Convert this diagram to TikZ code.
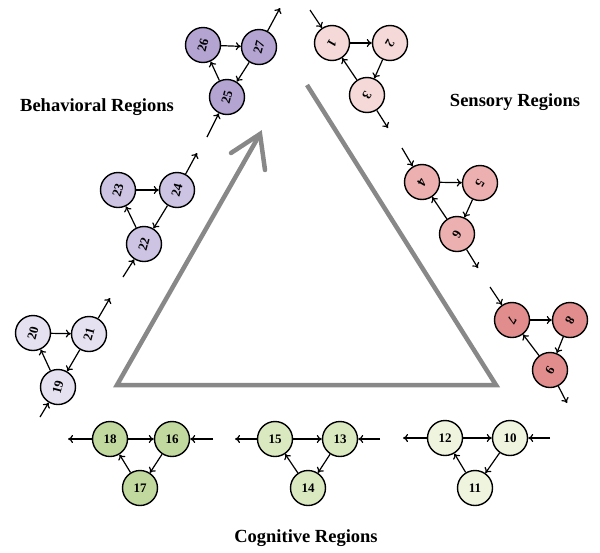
\documentclass[tikz,border=0pt]{standalone}
\usepackage{fontspec}
\setmainfont{Liberation Serif}
\usetikzlibrary{arrows.meta}
\definecolor{pA}{HTML}{B3A4D2}
\definecolor{pB}{HTML}{CDC3E2}
\definecolor{pC}{HTML}{E6E1F0}
\definecolor{rA}{HTML}{F5D8D8}
\definecolor{rB}{HTML}{EDB0B0}
\definecolor{rC}{HTML}{E28D8D}
\definecolor{gA}{HTML}{EFF4DF}
\definecolor{gB}{HTML}{DAE9C0}
\definecolor{gC}{HTML}{C1D99E}
\definecolor{tri}{HTML}{888888}
\newcommand{\rb}[1]{\rotatebox{75}{#1}}
\newcommand{\rs}[1]{\rotatebox{-120}{#1}}
\tikzset{
  nd/.style={circle,draw=black,line width=1.4pt,minimum size=35pt,inner sep=0pt,font=\fontsize{13}{13}\selectfont\bfseries},
  ar/.style={draw=black,line width=1.2pt,-{To[length=5pt,width=8pt]}},
  region/.style={font=\fontsize{18.5}{18.5}\selectfont\bfseries}
}
\begin{document}
\begin{tikzpicture}[x=1pt,y=-1pt]
\useasboundingbox (0,0) rectangle (600,552);
% triangle
\draw[tri,line width=4.5pt,line join=miter] (307,85) -- (496,385) -- (117,385) -- (260,134);
\draw[tri,line width=4.5pt,line join=miter,line cap=round] (231,153) -- (260,134) -- (265,170);
% labels
\node[region] (lb) at (97,107) {Behavioral Regions};
\node[region] (ls) at (515,102) {Sensory Regions};
\node[region] (lc) at (306,538) {Cognitive Regions};
% behavioral
\node[nd,fill=pA] (n25) at (227,97) {\rb{25}};
\node[nd,fill=pA] (n26) at (203,45) {\rb{26}};
\node[nd,fill=pA] (n27) at (259,47) {\rb{27}};
\node[nd,fill=pB] (n22) at (144,244) {\rb{22}};
\node[nd,fill=pB] (n23) at (118,190) {\rb{23}};
\node[nd,fill=pB] (n24) at (177,190) {\rb{24}};
\node[nd,fill=pC] (n19) at (58,387) {\rb{19}};
\node[nd,fill=pC] (n20) at (33,333) {\rb{20}};
\node[nd,fill=pC] (n21) at (89,334) {\rb{21}};
% sensory
\node[nd,fill=rA] (n1) at (332,43) {\rs{1}};
\node[nd,fill=rA] (n2) at (390,43) {\rs{2}};
\node[nd,fill=rA] (n3) at (367,95) {\rs{3}};
\node[nd,fill=rB] (n4) at (422,182) {\rs{4}};
\node[nd,fill=rB] (n5) at (480,183) {\rs{5}};
\node[nd,fill=rB] (n6) at (457,234) {\rs{6}};
\node[nd,fill=rC] (n7) at (512,320) {\rs{7}};
\node[nd,fill=rC] (n8) at (570,320) {\rs{8}};
\node[nd,fill=rC] (n9) at (550,370) {\rs{9}};
% cognitive
\node[nd,fill=gA] (n12) at (445,438) {12};
\node[nd,fill=gA] (n10) at (510,438) {10};
\node[nd,fill=gA] (n11) at (475,488) {11};
\node[nd,fill=gB] (n15) at (275,439) {15};
\node[nd,fill=gB] (n13) at (340,439) {13};
\node[nd,fill=gB] (n14) at (308,488) {14};
\node[nd,fill=gC] (n18) at (110,439) {18};
\node[nd,fill=gC] (n16) at (172,439) {16};
\node[nd,fill=gC] (n17) at (140,488) {17};
% free ends
\coordinate (i25) at (207,137); \coordinate (o27) at (280,8);
\coordinate (i22) at (123,277); \coordinate (o24) at (197,153);
\coordinate (i19) at (40,417);  \coordinate (o21) at (110,298);
\coordinate (i1) at (310,10);   \coordinate (o3) at (388,128);
\coordinate (i4) at (402,148);  \coordinate (o6) at (478,268);
\coordinate (i7) at (490,287);  \coordinate (o9) at (567,403);
\coordinate (i10) at (550,438); \coordinate (o12) at (403,438);
\coordinate (i13) at (380,439); \coordinate (o15) at (235,439);
\coordinate (i16) at (213,439); \coordinate (o18) at (68,439);
% behavioral edges
\foreach \a/\b/\c/\i/\o in {25/26/27/i25/o27,22/23/24/i22/o24,19/20/21/i19/o21}{
  \draw[ar] (n\b) -- (n\c);
  \draw[ar] (n\c) -- (n\a);
  \draw[ar] (n\a) -- (n\b);
  \draw[ar] (\i) -- (n\a);
  \draw[ar] (n\c) -- (\o);
}
% sensory edges
\foreach \a/\b/\c/\i/\o in {1/2/3/i1/o3,4/5/6/i4/o6,7/8/9/i7/o9}{
  \draw[ar] (n\a) -- (n\b);
  \draw[ar] (n\b) -- (n\c);
  \draw[ar] (n\c) -- (n\a);
  \draw[ar] (\i) -- (n\a);
  \draw[ar] (n\c) -- (\o);
}
% cognitive edges
\foreach \a/\b/\c/\i/\o in {12/10/11/i10/o12,15/13/14/i13/o15,18/16/17/i16/o18}{
  \draw[ar] (n\a) -- (n\b);
  \draw[ar] (n\b) -- (n\c);
  \draw[ar] (n\c) -- (n\a);
  \draw[ar] (\i) -- (n\b);
  \draw[ar] (n\a) -- (\o);
}
\end{tikzpicture}
\end{document}
